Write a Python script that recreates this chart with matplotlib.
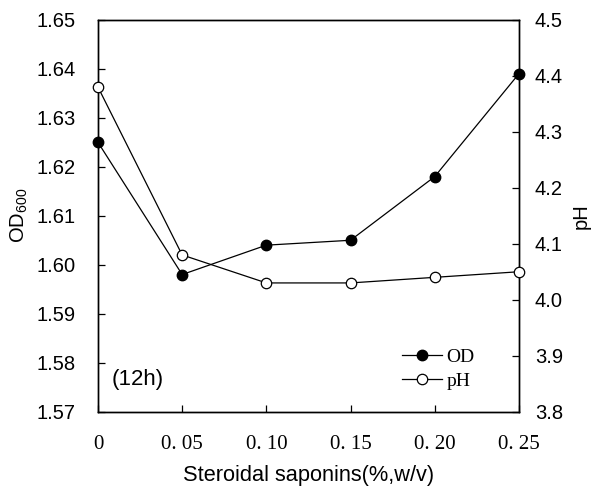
import matplotlib
matplotlib.use('Agg')
import matplotlib.pyplot as plt

plt.rcParams['font.family'] = 'Liberation Sans'
plt.rcParams['mathtext.fontset'] = 'custom'
plt.rcParams['mathtext.rm'] = 'Liberation Sans'

# saponin concentration (%, w/v)
conc = [0, 0.05, 0.10, 0.15, 0.20, 0.25]
conc_labels = ['0', '0. 05', '0. 10', '0. 15', '0. 20', '0. 25']
# OD600 after 12h
od = [1.625, 1.598, 1.604, 1.605, 1.618, 1.639]
# pH after 12h
ph = [4.38, 4.08, 4.03, 4.03, 4.04, 4.05]

od_ticks = [1.57, 1.58, 1.59, 1.60, 1.61, 1.62, 1.63, 1.64, 1.65]
ph_ticks = [3.8, 3.9, 4.0, 4.1, 4.2, 4.3, 4.4, 4.5]

fig = plt.figure(figsize=(5.92, 4.86), dpi=100)
ax = fig.add_axes([0.1655, 0.153, 0.711, 0.806])
ax2 = ax.twinx()

serif = 'Liberation Serif'

l1, = ax.plot(conc, od, '-o', color='black', lw=0.9, ms=7.5,
              mfc='black', mec='black', clip_on=False, zorder=3, label='OD')
l2, = ax2.plot(conc, ph, '-o', color='black', lw=0.9, ms=7.5,
               mfc='white', mec='black', mew=0.9, clip_on=False, zorder=3, label='pH')

ax.set_xlim(0, 0.25)
ax.set_ylim(1.57, 1.65)
ax2.set_ylim(3.8, 4.5)

ax.set_xticks(conc)
ax.set_xticklabels(conc_labels, fontfamily=serif, fontsize=15)
ax.set_yticks(od_ticks)
ax.set_yticklabels(['%.2f' % v for v in od_ticks], fontsize=14.5)
ax2.set_yticks(ph_ticks)
ax2.set_yticklabels(['%.1f' % v for v in ph_ticks], fontsize=14.5)

ax.tick_params(axis='y', direction='in', length=5, width=0.9, pad=16)
ax.tick_params(axis='x', direction='in', length=5, width=0.9, pad=17)
ax2.tick_params(axis='y', direction='in', length=5, width=0.9, pad=11.5)

for a in (ax, ax2):
    for s in a.spines.values():
        s.set_linewidth(1.0)

ax.set_xlabel('Steroidal saponins(%,w/v)', fontsize=15.7, labelpad=8)
ax.set_ylabel(r'$\mathregular{OD_{600}}$', fontsize=14.5, labelpad=5)
ax2.set_ylabel('pH', fontsize=14.5, labelpad=6)

ax.text(0.0235, 1.5765, '(12h)', fontsize=16, ha='center', va='center')

ax2.legend([l1, l2], ['OD', 'pH'], loc='center left', bbox_to_anchor=(0.7214, 0.1085),
           frameon=False, prop={'family': serif, 'size': 14},
           borderpad=0, borderaxespad=0,
           handlelength=2.06, handletextpad=0.26, labelspacing=0.33)

fig.savefig('out.png', dpi=100)
